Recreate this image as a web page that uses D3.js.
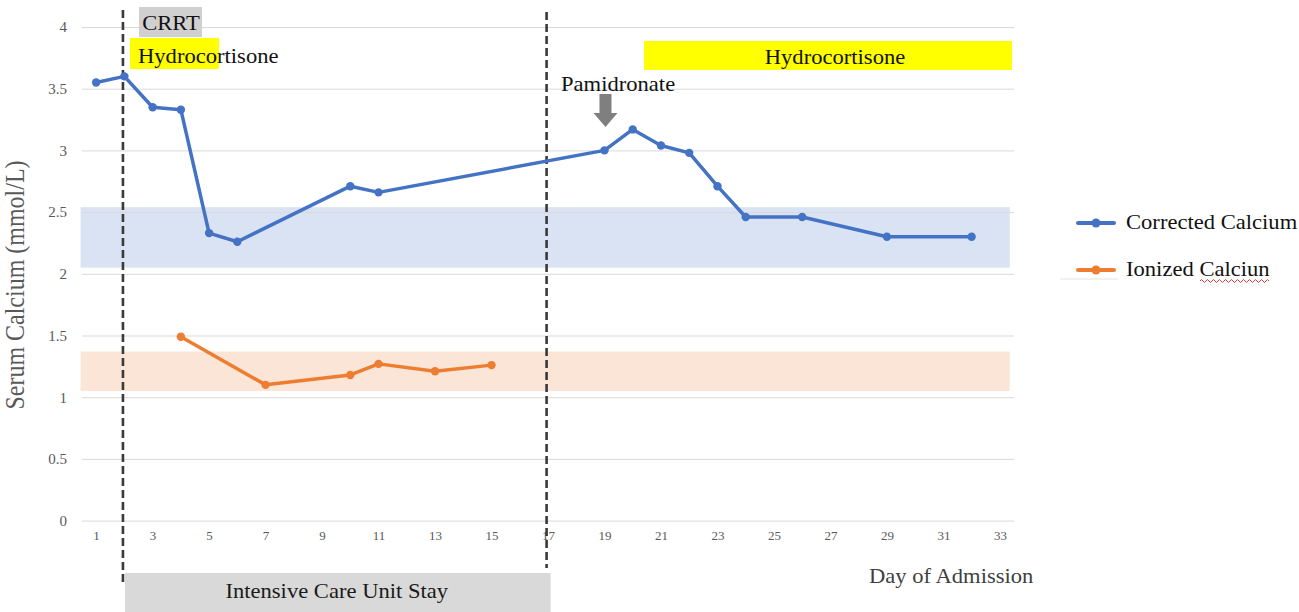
<!DOCTYPE html>
<html>
<head>
<meta charset="utf-8">
<script src="https://d3js.org/d3.v7.min.js"></script>
<style>
  body { margin: 0; background: #fff; }
  text { font-family: "Liberation Serif", "DejaVu Serif", serif; }
</style>
</head>
<body>
<svg id="chart" width="1299" height="612"></svg>
<script>
// data
var correctedDays = [1, 2, 3, 4, 5, 6, 10, 11, 19, 20, 21, 22, 23, 24, 26, 29, 32];
var correctedVals = [3.55, 3.60, 3.35, 3.33, 2.33, 2.26, 2.71, 2.66, 3.00, 3.17, 3.04, 2.98, 2.71, 2.46, 2.46, 2.30, 2.30];
var ionizedDays = [4, 7, 10, 11, 13, 15];
var ionizedVals = [1.49, 1.10, 1.18, 1.27, 1.21, 1.26];
var correctedRange = [2.05, 2.54];
var ionizedRange = [1.05, 1.37];
var yTicks = [0, 0.5, 1, 1.5, 2, 2.5, 3, 3.5, 4];
var xTicks = [1, 3, 5, 7, 9, 11, 13, 15, 17, 19, 21, 23, 25, 27, 29, 31, 33];
var seriesNames = ["Corrected Calcium", "Ionized Calciun"];
var icuDays = [1.95, 16.95];
var pamidronateDay = 19;

var svg = d3.select("#chart");

var x = d3.scaleLinear().domain([0.5, 33.5]).range([82, 1014]);
var y = d3.scaleLinear().domain([0, 4]).range([520.6, 27]);

var blue = "#4472c4", orange = "#ed7d31";
var stretch = 1.13; // the original picture is a bit wider than tall

// horizontal text, slightly widened like the source image
function label(px, py, str, size, anchor, color) {
  return svg.append("text")
    .attr("transform", "translate(" + px + "," + py + ") scale(" + stretch + ",1)")
    .attr("text-anchor", anchor || "start")
    .attr("font-size", size + "px")
    .attr("fill", color || "#111")
    .text(str);
}

// reference bands
svg.append("rect")
  .attr("x", x(0.45)).attr("width", x(33.35) - x(0.45))
  .attr("y", y(correctedRange[1])).attr("height", y(correctedRange[0]) - y(correctedRange[1]))
  .attr("fill", "#dae3f3");
svg.append("rect")
  .attr("x", x(0.45)).attr("width", x(33.35) - x(0.45))
  .attr("y", y(ionizedRange[1])).attr("height", y(ionizedRange[0]) - y(ionizedRange[1]))
  .attr("fill", "#fbe5d6");

// gridlines
var grid = svg.append("g")
  .attr("transform", "translate(" + x(0.5) + ",0)")
  .call(d3.axisLeft(y).tickValues(yTicks).tickSize(-(x(33.5) - x(0.5))).tickFormat(""));
grid.select(".domain").remove();
grid.selectAll("line").attr("stroke", "#d9d9d9").attr("stroke-width", 1);

// y axis labels
var yAxis = svg.append("g")
  .attr("transform", "translate(" + (x(0.5) - 12) + ",0)")
  .call(d3.axisLeft(y).tickValues(yTicks).tickSize(0).tickFormat(function(d) { return d; }));
yAxis.select(".domain").remove();
yAxis.selectAll("text")
  .attr("font-family", "Liberation Serif").attr("font-size", "15px").attr("fill", "#595959");

// x axis labels
var xAxis = svg.append("g")
  .attr("transform", "translate(0," + y(0) + ")")
  .call(d3.axisBottom(x).tickValues(xTicks).tickSize(0).tickPadding(10));
xAxis.select(".domain").remove();
xAxis.selectAll("text")
  .attr("font-family", "Liberation Serif").attr("font-size", "13px").attr("fill", "#595959");

// axis titles
svg.append("text")
  .attr("transform", "translate(24,285) rotate(-90) scale(1," + stretch + ")")
  .attr("text-anchor", "middle")
  .attr("font-size", "24px").attr("fill", "#595959")
  .text("Serum Calcium (mmol/L)");
label(869, 583, "Day of Admission", 20, "start", "#404040");

// ICU box
svg.append("rect")
  .attr("x", x(icuDays[0]) + 2).attr("y", 573)
  .attr("width", x(icuDays[1]) - x(icuDays[0]) + 2).attr("height", 45)
  .attr("fill", "#d9d9d9");
label((x(icuDays[0]) + x(icuDays[1])) / 2 + 2, 598, "Intensive Care Unit Stay", 20, "middle", "#1a1a1a");

// dashed ICU boundaries
svg.append("line")
  .attr("x1", x(icuDays[0])).attr("x2", x(icuDays[0]))
  .attr("y1", 10).attr("y2", 585)
  .attr("stroke", "#3a3a3a").attr("stroke-width", 2.6).attr("stroke-dasharray", "8,4");
svg.append("line")
  .attr("x1", x(icuDays[1])).attr("x2", x(icuDays[1]))
  .attr("y1", 12).attr("y2", 568)
  .attr("stroke", "#3a3a3a").attr("stroke-width", 2.6).attr("stroke-dasharray", "8,4");

// CRRT and hydrocortisone labels
svg.append("rect").attr("x", 139).attr("y", 7).attr("width", 63).attr("height", 30).attr("fill", "#d0d0d0");
label(171, 30, "CRRT", 20, "middle");
svg.append("rect").attr("x", 130).attr("y", 38).attr("width", 89).attr("height", 31).attr("fill", "#ffff00");
label(138, 63, "Hydrocortisone", 20, "start");
svg.append("rect").attr("x", 644).attr("y", 41).attr("width", 368).attr("height", 29).attr("fill", "#ffff00");
label(835, 64, "Hydrocortisone", 20, "middle");

// pamidronate arrow
var px = x(pamidronateDay) + 1;
label(561, 91, "Pamidronate", 20, "start");
svg.append("path")
  .attr("d", "M" + (px - 6) + ",94 L" + (px + 6) + ",94 L" + (px + 6) + ",113 L" + (px + 12) + ",113 L" + px + ",127 L" + (px - 12) + ",113 L" + (px - 6) + ",113 Z")
  .attr("fill", "#7f7f7f");

// series lines
var line = d3.line().x(function(d) { return x(d[0]); }).y(function(d) { return y(d[1]); });

function drawSeries(days, vals, color) {
  var pts = d3.zip(days, vals);
  svg.append("path").datum(pts)
    .attr("d", line).attr("fill", "none")
    .attr("stroke", color).attr("stroke-width", 3.5).attr("stroke-linejoin", "round");
  svg.append("g").selectAll("circle").data(pts).enter().append("circle")
    .attr("cx", function(d) { return x(d[0]); })
    .attr("cy", function(d) { return y(d[1]); })
    .attr("r", 4.2).attr("fill", color);
}
drawSeries(correctedDays, correctedVals, blue);
drawSeries(ionizedDays, ionizedVals, orange);

// legend
var legendColors = [blue, orange];
var legendY = [223, 270];
svg.append("line").attr("x1", 1060).attr("x2", 1118).attr("y1", 279).attr("y2", 279)
  .attr("stroke", "#e4e4e4").attr("stroke-width", 1);
seriesNames.forEach(function(name, i) {
  svg.append("line")
    .attr("x1", 1078).attr("x2", 1114).attr("y1", legendY[i]).attr("y2", legendY[i])
    .attr("stroke", legendColors[i]).attr("stroke-width", 4).attr("stroke-linecap", "round");
  svg.append("circle").attr("cx", 1096).attr("cy", legendY[i]).attr("r", 4.5).attr("fill", legendColors[i]);
  label(1126, legendY[i] + 6, name, 20, "start");
});
// spell-check squiggle under "Calciun"
var sq = "M1200,281";
for (var k = 0; k < 23; k++) { sq += " l1.5," + (k % 2 ? 1.5 : -1.5) + " l1.5," + (k % 2 ? -1.5 : 1.5); }
svg.append("path").attr("d", sq).attr("fill", "none").attr("stroke", "#e8393b").attr("stroke-width", 1);
</script>
</body>
</html>
